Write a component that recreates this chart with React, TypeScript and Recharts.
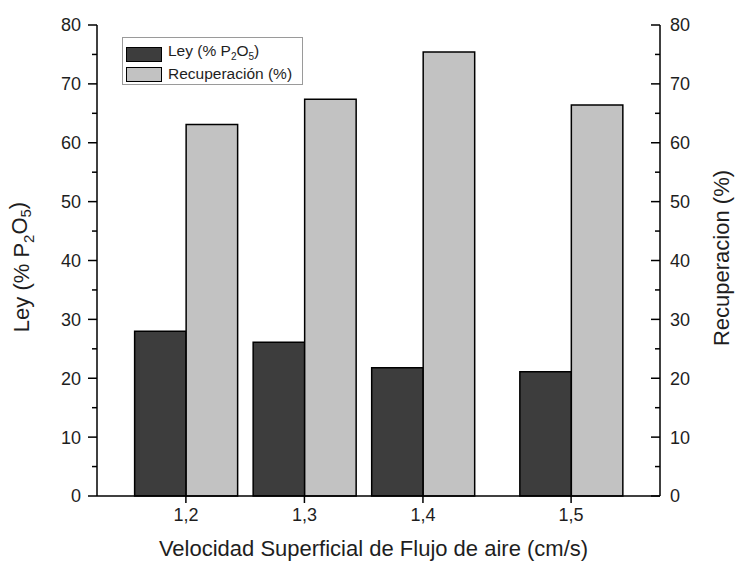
import React from 'react';
import { BarChart, Bar, XAxis, YAxis, Legend } from 'recharts';

// Data
const categories = ['1,2', '1,3', '1,4', '1,5'];
const categoryPositions = [1, 2, 3, 4.25];
const leyValues = [28.0, 26.1, 21.8, 21.1];
const recuperacionValues = [63.1, 67.4, 75.4, 66.4];
const yTicks = [0, 5, 10, 15, 20, 25, 30, 35, 40, 45, 50, 55, 60, 65, 70, 75, 80];

const data = categories.map((c, i) => ({
  label: c,
  pos: categoryPositions[i],
  ley: leyValues[i],
  rec: recuperacionValues[i],
}));

const FONT = "'Liberation Sans', Arial, Helvetica, sans-serif";
const DARK = '#3d3d3d';
const LIGHT = '#c2c2c2';
const TEXT = '#1e1e1e';

const LeftTick = (props: any) => {
  const { x, y, payload } = props;
  const major = payload.value % 10 === 0;
  return (
    <g>
      <line x1={x - (major ? 9 : 5)} x2={x} y1={y} y2={y} stroke="#000" strokeWidth={1.5} />
      {major && (
        <text x={x - 16} y={y} dy="0.36em" textAnchor="end" fontSize={18} fontFamily={FONT} fill={TEXT}>
          {payload.value}
        </text>
      )}
    </g>
  );
};

const RightTick = (props: any) => {
  const { x, y, payload } = props;
  const major = payload.value % 10 === 0;
  return (
    <g>
      <line x1={x - (major ? 9 : 5)} x2={x} y1={y} y2={y} stroke="#000" strokeWidth={1.5} />
      {major && (
        <text x={x + 10} y={y} dy="0.36em" textAnchor="start" fontSize={18} fontFamily={FONT} fill={TEXT}>
          {payload.value}
        </text>
      )}
    </g>
  );
};

const XTitle = (props: any) => {
  const vb = props.viewBox || {};
  return (
    <text x={vb.x + vb.width / 2 - 5} y={vb.y + 60} textAnchor="middle" fontSize={22} fontFamily={FONT} fill={TEXT}>
      Velocidad Superficial de Flujo de aire (cm/s)
    </text>
  );
};

const LeftTitle = () => (
  <text transform="translate(29,267) rotate(-90)" textAnchor="middle" fontSize={22} fontFamily={FONT} fill={TEXT}>
    Ley (% P
    <tspan dy="0.3em" fontSize={15}>2</tspan>
    <tspan dy="-0.3em">O</tspan>
    <tspan dy="0.3em" fontSize={15}>5</tspan>
    <tspan dy="-0.3em">)</tspan>
  </text>
);

const RightTitle = () => (
  <text transform="translate(729,258) rotate(-90)" textAnchor="middle" fontSize={22} fontFamily={FONT} fill={TEXT}>
    Recuperacion (%)
  </text>
);

const LegendBox = () => (
  <div
    style={{
      width: 181,
      height: 48,
      border: '1px solid #9a9a9a',
      background: '#fff',
      fontFamily: FONT,
      fontSize: 15.5,
      color: TEXT,
      boxSizing: 'border-box',
      position: 'relative',
    }}
  >
    <div style={{ position: 'absolute', left: 3, top: 5, display: 'flex', alignItems: 'center' }}>
      <div style={{ width: 34, height: 13, background: DARK, border: '1.5px solid #000' }} />
      <span style={{ marginLeft: 6, lineHeight: '16px' }}>
        Ley (% P<sub style={{ fontSize: 10 }}>2</sub>O<sub style={{ fontSize: 10 }}>5</sub>)
      </span>
    </div>
    <div style={{ position: 'absolute', left: 3, top: 28, display: 'flex', alignItems: 'center' }}>
      <div style={{ width: 34, height: 13, background: LIGHT, border: '1.5px solid #000' }} />
      <span style={{ marginLeft: 6, lineHeight: '16px' }}>Recuperación (%)</span>
    </div>
  </div>
);

export default function App() {
  return (
    <div style={{ position: 'absolute', left: 0, top: 0, background: '#fff' }}>
      <BarChart
        width={737}
        height={561}
        data={data}
        margin={{ top: 25, right: 0, bottom: 0, left: 0 }}
        barGap={0}
        barSize={51.5}
      >
        <XAxis
          dataKey="pos"
          type="number"
          domain={[0.25, 5]}
          ticks={categoryPositions}
          tickFormatter={(v: number) => categories[categoryPositions.indexOf(v)] ?? ''}
          height={65}
          axisLine={{ stroke: '#000', strokeWidth: 1.5 }}
          tickLine={{ stroke: '#000', strokeWidth: 1.5 }}
          tickSize={7}
          tickMargin={5}
          tick={{ fontSize: 18, fontFamily: FONT, fill: TEXT }}
          allowDataOverflow
          label={<XTitle />}
        />
        <XAxis
          xAxisId="top"
          orientation="top"
          type="number"
          domain={[0.25, 5]}
          height={0}
          tick={false}
          tickLine={false}
          axisLine={{ stroke: '#000', strokeWidth: 1.5 }}
        />
        <YAxis
          yAxisId="left"
          orientation="left"
          width={97}
          domain={[0, 80]}
          ticks={yTicks}
          interval={0}
          tickSize={0}
          tickMargin={0}
          tickLine={false}
          axisLine={{ stroke: '#000', strokeWidth: 1.5 }}
          tick={<LeftTick />}
          label={<LeftTitle />}
        />
        <YAxis
          yAxisId="right"
          orientation="right"
          width={77}
          domain={[0, 80]}
          ticks={yTicks}
          interval={0}
          tickSize={0}
          tickMargin={0}
          tickLine={false}
          axisLine={{ stroke: '#000', strokeWidth: 1.5 }}
          tick={<RightTick />}
          label={<RightTitle />}
        />
        <Legend
          layout="vertical"
          align="center"
          verticalAlign="middle"
          wrapperStyle={{ position: 'absolute', left: 122, top: 37, width: 181, height: 48 }}
          content={() => <LegendBox />}
        />
        <Bar
          dataKey="ley"
          name="Ley (% P2O5)"
          yAxisId="left"
          fill={DARK}
          stroke="#000"
          strokeWidth={1.5}
          isAnimationActive={false}
        />
        <Bar
          dataKey="rec"
          name="Recuperación (%)"
          yAxisId="right"
          fill={LIGHT}
          stroke="#000"
          strokeWidth={1.5}
          isAnimationActive={false}
        />
      </BarChart>
    </div>
  );
}
